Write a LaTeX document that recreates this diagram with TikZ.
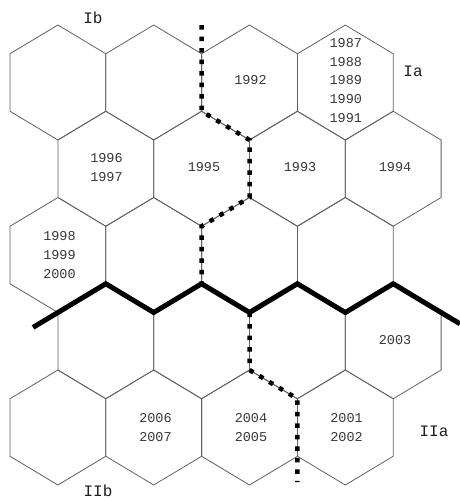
\documentclass[tikz,border=0pt]{standalone}
\usepackage{fontspec}
\setmonofont{Liberation Mono}
\begin{document}
\begin{tikzpicture}[x=1pt,y=-1pt,
  hexline/.style={draw=black!62,line width=0.8pt,line join=miter},
  yeartext/.style={font=\ttfamily\fontsize{13.5}{18.8}\selectfont,text=black!78,align=center,inner sep=0pt},
  regiontext/.style={font=\ttfamily\fontsize{16}{18}\selectfont,text=black!88,inner sep=0pt},
  border/.style={draw=black,line width=5pt,line join=miter},
  dotline/.style={draw=black,line width=4.5pt,dash pattern=on 4.5pt off 7pt}]
\useasboundingbox[fill=white] (0,0) rectangle (460,501);
\newcommand\hexcell[2]{\draw[hexline] (#1,#2) +(0,-57.5) -- +(47.9,-28.75) -- +(47.9,28.75) -- +(0,57.5) -- +(-47.9,28.75) -- +(-47.9,-28.75) -- cycle;}
% odd rows
\foreach \yy in {82.5,255,427.5}{
  \foreach \xx in {57.9,153.7,249.5,345.3}{\hexcell{\xx}{\yy}}}
% even rows
\foreach \yy in {168.75,341.25}{
  \foreach \xx in {105.8,201.6,297.4,393.2}{\hexcell{\xx}{\yy}}}
% thick border
\coordinate (b0) at (33,327.4);
\coordinate (b1) at (57.9,312.5);
\coordinate (b2) at (105.8,283.75);
\coordinate (b3) at (153.7,312.5);
\coordinate (b4) at (201.6,283.75);
\coordinate (b5) at (249.5,312.5);
\coordinate (b6) at (297.4,283.75);
\coordinate (b7) at (345.3,312.5);
\coordinate (b8) at (393.2,283.75);
\coordinate (b9) at (441.1,312.5);
\coordinate (b10) at (460,323.8);
\draw[border] (b0) -- (b1) -- (b2) -- (b3) -- (b4) -- (b5) -- (b6) -- (b7) -- (b8) -- (b9) -- (b10);
% upper dotted divider
\coordinate (u0) at (201.6,25);
\coordinate (u1) at (201.6,111.25);
\coordinate (u2) at (249.5,140);
\coordinate (u3) at (249.5,197.5);
\coordinate (u4) at (201.6,226.25);
\draw[dotline] (u0) -- (u1) -- (u2) -- (u3) -- (u4) -- (b4);
% lower dotted divider
\coordinate (l1) at (249.5,370);
\coordinate (l2) at (297.4,398.75);
\coordinate (l3) at (297.4,482);
\draw[dotline] (b5) -- (l1) -- (l2) -- (l3);
% years
\node[yeartext] (y87) at (345.8,80.5) {1987\\1988\\1989\\1990\\1991};
\node[yeartext] (y92) at (250.5,80.5) {1992};
\node[yeartext] (y96) at (106.5,167.5) {1996\\1997};
\node[yeartext] (y95) at (204,167.5) {1995};
\node[yeartext] (y93) at (300,167.5) {1993};
\node[yeartext] (y94) at (395,167.5) {1994};
\node[yeartext] (y98) at (59.5,255) {1998\\1999\\2000};
\node[yeartext] (y03) at (395,340.5) {2003};
\node[yeartext] (y06) at (155.5,427.5) {2006\\2007};
\node[yeartext] (y04) at (251,427.5) {2004\\2005};
\node[yeartext] (y01) at (346.5,427.5) {2001\\2002};
% region labels
\node[regiontext] (ib) at (93,18) {Ib};
\node[regiontext] (ia) at (413,71) {Ia};
\node[regiontext] (iia) at (434,431) {IIa};
\node[regiontext] (iib) at (98,491) {IIb};
\end{tikzpicture}
\end{document}
